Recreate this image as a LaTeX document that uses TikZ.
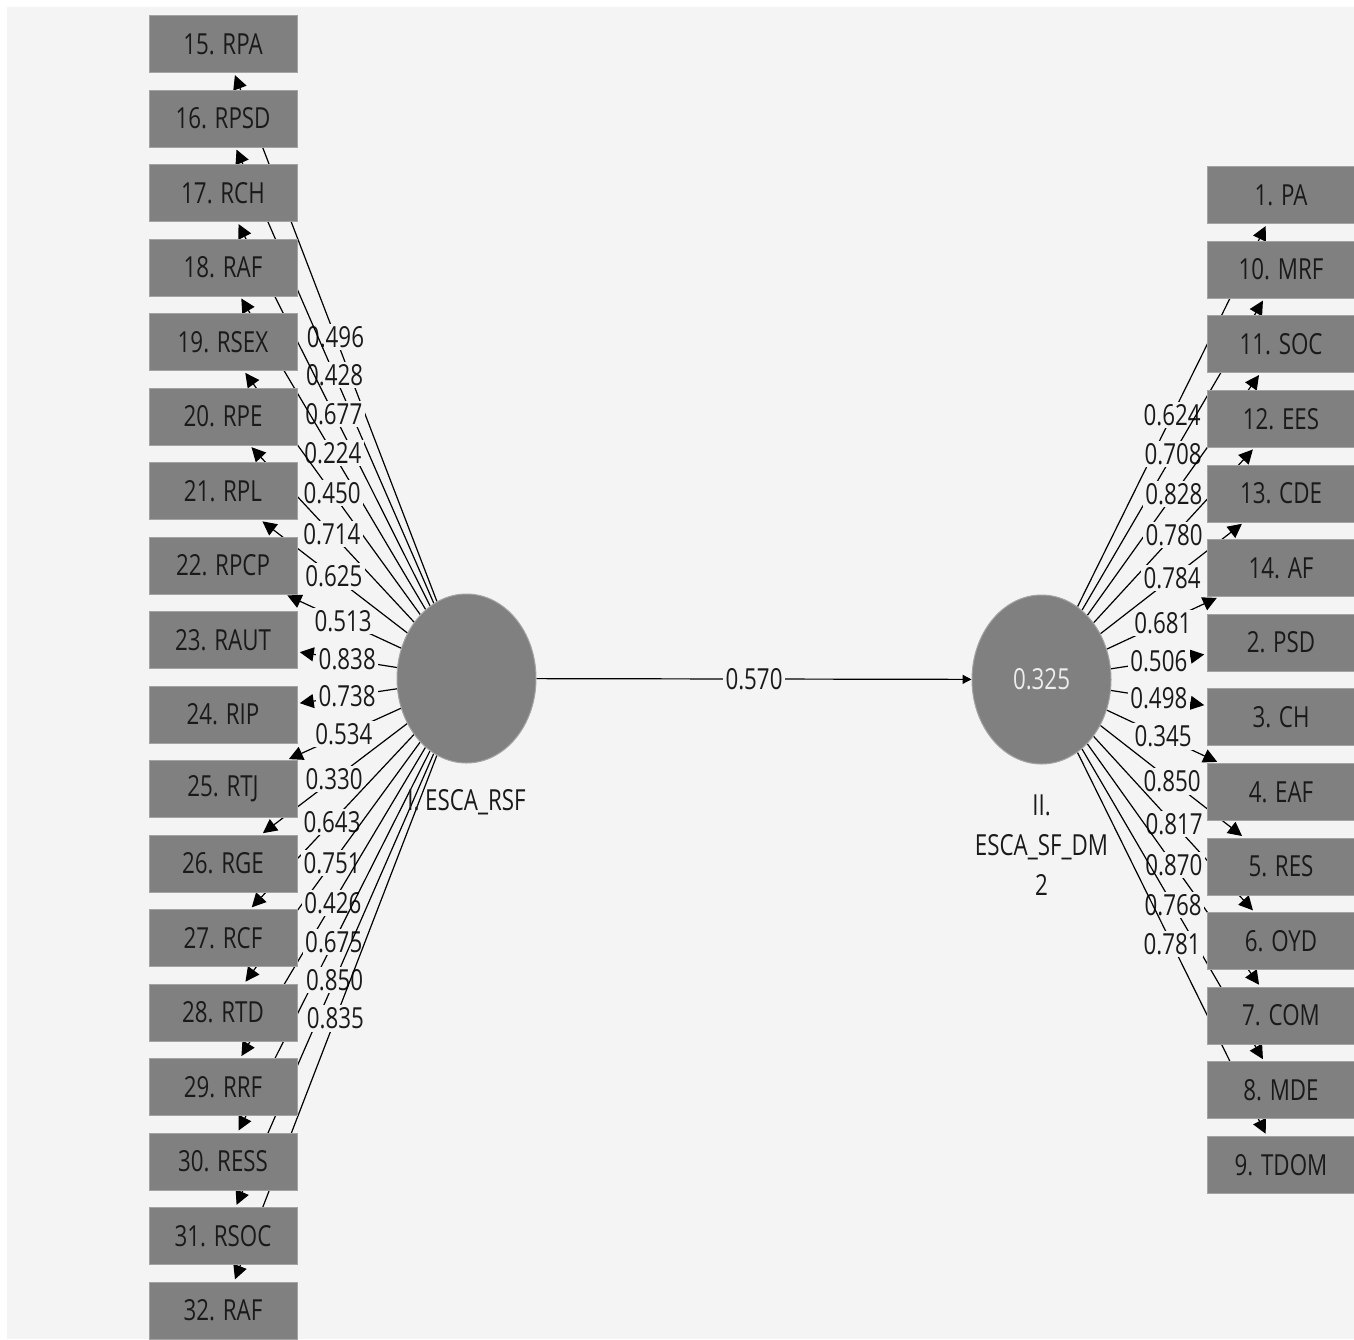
\documentclass[tikz,border=0pt]{standalone}
\usepackage{fontspec}
\setmainfont{Open Sans}[FakeStretch=0.77]
\usetikzlibrary{arrows.meta, shapes.geometric}

\definecolor{sfondo}{HTML}{F4F4F4}
\definecolor{grigio}{HTML}{808080}
\definecolor{bordo}{HTML}{A3A3A3}
\definecolor{testo}{HTML}{1A1A1A}
\definecolor{chiaro}{HTML}{EDEDED}

\pgfdeclarelayer{fondo}
\pgfdeclarelayer{linee}
\pgfsetlayers{fondo,linee,main}

\tikzset{
    ind/.style={rectangle, fill=grigio, draw=bordo, line width=0.4pt,
        minimum width=74pt, minimum height=28.5pt, inner sep=0pt, text=testo},
    lat/.style={ellipse, fill=grigio, draw=bordo, line width=0.5pt,
        minimum width=69.5pt, minimum height=84.5pt, inner sep=0pt},
    peso/.style={fill=sfondo, inner sep=1.2pt, text=testo},
    freccia/.style={line width=0.6pt, -{Triangle[length=7pt, width=7pt]}, shorten >=1.2pt},
}

\begin{document}
\begin{tikzpicture}[x=0.5pt, y=-0.5pt, font=\fontsize{14.5}{20}\selectfont]

        % Sfondo
        \useasboundingbox (0,0) rectangle (1354,1339);
        \begin{pgfonlayer}{fondo}
            \fill[white] (0,0) rectangle (1354,1339);
            \fill[sfondo] (7,7) rectangle (1354,1339);
        \end{pgfonlayer}

        % ==========================================
        % COSTRUTTI LATENTI
        % ==========================================

        \node[lat] (rsf) at (466.5,678.5) {};
        \node[lat, text=chiaro] (sfdm) at (1041.5,679.5) {0.325};

        % Etichette dei costrutti
        \node[text=testo] (nrsf) at (466.5,802) {I. ESCA\_RSF};
        \node[text=testo, align=center] (nsfdm) at (1041.5,845) {II.\\ESCA\_SF\_DM\\2};

        % ==========================================
        % PARTE SINISTRA: indicatori di ESCA_RSF
        % ==========================================

        \node[ind] (i15) at (223,44) {15. RPA};
        \node[ind] (i16) at (223,118.5) {16. RPSD};
        \node[ind] (i17) at (223,193) {17. RCH};
        \node[ind] (i18) at (223,267.5) {18. RAF};
        \node[ind] (i19) at (223,342) {19. RSEX};
        \node[ind] (i20) at (223,416.5) {20. RPE};
        \node[ind] (i21) at (223,491) {21. RPL};
        \node[ind] (i22) at (223,565.5) {22. RPCP};
        \node[ind] (i23) at (223,640) {23. RAUT};
        \node[ind] (i24) at (223,714.5) {24. RIP};
        \node[ind] (i25) at (223,789) {25. RTJ};
        \node[ind] (i26) at (223,863.5) {26. RGE};
        \node[ind] (i27) at (223,938) {27. RCF};
        \node[ind] (i28) at (223,1012.5) {28. RTD};
        \node[ind] (i29) at (223,1087) {29. RRF};
        \node[ind] (i30) at (223,1161.5) {30. RESS};
        \node[ind] (i31) at (223,1236) {31. RSOC};
        \node[ind] (i32) at (223,1310.5) {32. RAF};

        % Pesi fattoriali (sotto i riquadri)
        \begin{pgfonlayer}{linee}
        \draw[freccia] (rsf) -- node[peso] {0.496} (i15);
        \draw[freccia] (rsf) -- node[peso] {0.428} (i16);
        \draw[freccia] (rsf) -- node[peso] {0.677} (i17);
        \draw[freccia] (rsf) -- node[peso] {0.224} (i18);
        \draw[freccia] (rsf) -- node[peso] {0.450} (i19);
        \draw[freccia] (rsf) -- node[peso] {0.714} (i20);
        \draw[freccia] (rsf) -- node[peso] {0.625} (i21);
        \draw[freccia] (rsf) -- node[peso] {0.513} (i22);
        \draw[freccia] (rsf) -- node[peso] {0.838} (i23);
        \draw[freccia] (rsf) -- node[peso] {0.738} (i24);
        \draw[freccia] (rsf) -- node[peso] {0.534} (i25);
        \draw[freccia] (rsf) -- node[peso] {0.330} (i26);
        \draw[freccia] (rsf) -- node[peso] {0.643} (i27);
        \draw[freccia] (rsf) -- node[peso] {0.751} (i28);
        \draw[freccia] (rsf) -- node[peso] {0.426} (i29);
        \draw[freccia] (rsf) -- node[peso] {0.675} (i30);
        \draw[freccia] (rsf) -- node[peso] {0.850} (i31);
        \draw[freccia] (rsf) -- node[peso] {0.835} (i32);
        \end{pgfonlayer}

        % ==========================================
        % CENTRO: coefficiente di percorso
        % ==========================================

        \draw[line width=0.6pt, -{Triangle[length=4.5pt, width=4.5pt]}] (rsf) -- node[peso] {0.570} (sfdm);

        % ==========================================
        % PARTE DESTRA: indicatori di ESCA_SF_DM2
        % ==========================================

        \node[ind] (i1) at (1281,195) {1. PA};
        \node[ind] (i10) at (1281,269.6) {10. MRF};
        \node[ind] (i11) at (1281,344.2) {11. SOC};
        \node[ind] (i12) at (1281,418.8) {12. EES};
        \node[ind] (i13) at (1281,493.4) {13. CDE};
        \node[ind] (i14) at (1281,568) {14. AF};
        \node[ind] (i2) at (1281,642.6) {2. PSD};
        \node[ind] (i3) at (1281,717.2) {3. CH};
        \node[ind] (i4) at (1281,791.8) {4. EAF};
        \node[ind] (i5) at (1281,866.4) {5. RES};
        \node[ind] (i6) at (1281,941) {6. OYD};
        \node[ind] (i7) at (1281,1015.6) {7. COM};
        \node[ind] (i8) at (1281,1090.2) {8. MDE};
        \node[ind] (i9) at (1281,1164.8) {9. TDOM};

        % Pesi fattoriali (sotto i riquadri)
        \begin{pgfonlayer}{linee}
        \draw[freccia] (sfdm) -- node[peso] {0.624} (i1);
        \draw[freccia] (sfdm) -- node[peso] {0.708} (i10);
        \draw[freccia] (sfdm) -- node[peso] {0.828} (i11);
        \draw[freccia] (sfdm) -- node[peso] {0.780} (i12);
        \draw[freccia] (sfdm) -- node[peso] {0.784} (i13);
        \draw[freccia] (sfdm) -- node[peso] {0.681} (i14);
        \draw[freccia] (sfdm) -- node[peso] {0.506} (i2);
        \draw[freccia] (sfdm) -- node[peso] {0.498} (i3);
        \draw[freccia] (sfdm) -- node[peso] {0.345} (i4);
        \draw[freccia] (sfdm) -- node[peso] {0.850} (i5);
        \draw[freccia] (sfdm) -- node[peso] {0.817} (i6);
        \draw[freccia] (sfdm) -- node[peso] {0.870} (i7);
        \draw[freccia] (sfdm) -- node[peso] {0.768} (i8);
        \draw[freccia] (sfdm) -- node[peso] {0.781} (i9);
        \end{pgfonlayer}

\end{tikzpicture}
\end{document}
